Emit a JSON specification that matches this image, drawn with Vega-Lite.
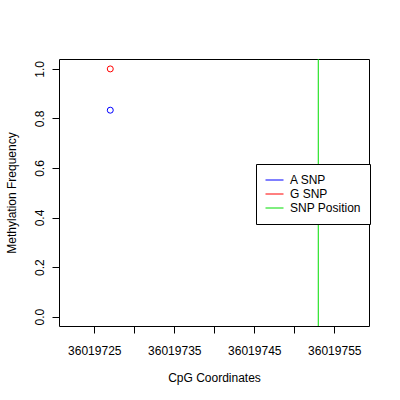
{
  "$schema": "https://vega.github.io/schema/vega-lite/v6.json",
  "width": 310,
  "height": 267,
  "autosize": {"type": "none"},
  "padding": {"left": 59, "top": 59, "right": 31, "bottom": 74},
  "background": "white",
  "config": {
    "font": "Liberation Sans",
    "view": {"stroke": "black", "strokeWidth": 1},
    "axis": {
      "grid": false,
      "domain": false,
      "tickColor": "black",
      "tickSize": 7,
      "labelColor": "black",
      "labelFontSize": 12,
      "titleFontSize": 12,
      "titleFontWeight": "normal",
      "titleColor": "black",
      "labelFont": "Liberation Sans",
      "titleFont": "Liberation Sans"
    },
    "legend": {
      "labelFont": "Liberation Sans",
      "labelFontSize": 12,
      "labelColor": "black"
    }
  },
  "datasets": {
    "points": [
      {"coord": 36019727, "freq": 0.8333, "series": "A SNP"},
      {"coord": 36019727, "freq": 1.0, "series": "G SNP"}
    ],
    "snp": [
      {"coord": 36019753, "series": "SNP Position"}
    ]
  },
  "layer": [
    {
      "data": {"name": "snp"},
      "mark": {"type": "rule", "strokeWidth": 1},
      "encoding": {
        "x": {
          "field": "coord", "type": "quantitative",
          "scale": {"domain": [36019720.59, 36019759.34], "nice": false, "zero": false},
          "axis": {
            "title": "CpG Coordinates",
            "values": [36019725, 36019730, 36019735, 36019740, 36019745, 36019750, 36019755],
            "format": "d",
            "labelExpr": "datum.value % 10 == 5 ? datum.label : ''",
            "labelPadding": 12,
            "titlePadding": 16,
            "labelFlush": false,
            "labelOverlap": false
          }
        },
        "stroke": {
          "field": "series", "type": "nominal",
          "scale": {"domain": ["A SNP", "G SNP", "SNP Position"], "range": ["#0000FF", "#FF0000", "#00DD00"]},
          "legend": {
            "title": null,
            "orient": "none",
            "legendX": 197,
            "legendY": 105,
            "symbolType": "stroke",
            "symbolSize": 324,
            "symbolStrokeWidth": 1,
            "labelOffset": 6,
            "clipHeight": 14,
            "rowPadding": 0,
            "padding": 9,
            "strokeColor": "black",
            "fillColor": "white",
            "cornerRadius": 0
          }
        }
      }
    },
    {
      "data": {"name": "points"},
      "mark": {"type": "point", "shape": "circle", "filled": false, "size": 36, "strokeWidth": 1, "opacity": 1},
      "encoding": {
        "x": {"field": "coord", "type": "quantitative"},
        "y": {
          "field": "freq", "type": "quantitative",
          "scale": {"domain": [-0.038, 1.04], "nice": false, "zero": false},
          "axis": {
            "title": "Methylation Frequency",
            "values": [0, 0.2, 0.4, 0.6, 0.8, 1.0],
            "format": ".1f",
            "labelAngle": -90,
            "labelAlign": "center",
            "labelBaseline": "bottom",
            "labelPadding": 6,
            "titlePadding": 15,
            "labelFlush": false,
            "labelOverlap": false
          }
        },
        "stroke": {"field": "series", "type": "nominal"}
      }
    }
  ]
}
